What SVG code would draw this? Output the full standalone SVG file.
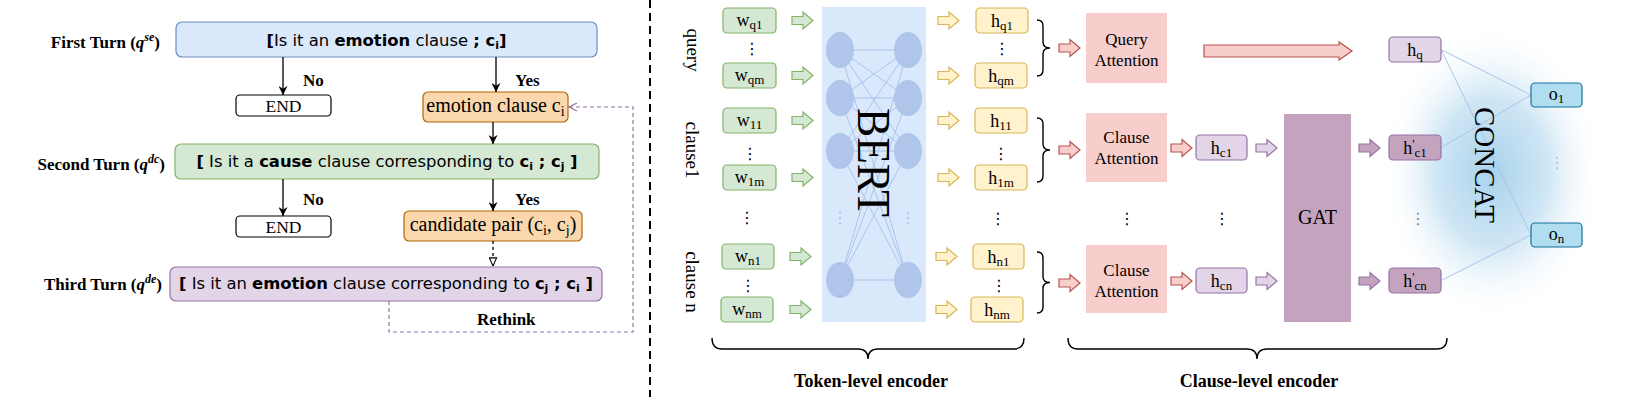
<svg xmlns="http://www.w3.org/2000/svg" xmlns:xlink="http://www.w3.org/1999/xlink" width="1642" height="416" viewBox="0 0 1642 416">
<style>
.t{font-family:"Liberation Serif","Times New Roman",serif;fill:#000}
.b{font-weight:bold}
.s{font-family:"DejaVu Sans","Verdana",sans-serif;font-size:16.4px;fill:#000}
.l18{font-size:18px}
.lb{font-size:17px;font-weight:bold}
.blue{fill:#dae8fc;stroke:#6c8ebf;stroke-width:1.2}
.green{fill:#d5e8d4;stroke:#82b366;stroke-width:1.2}
.purple{fill:#e1d5e7;stroke:#9673a6;stroke-width:1.2}
.orange{fill:#fad7ac;stroke:#b46504;stroke-width:1.2}
.yellow{fill:#fff2cc;stroke:#d6b656;stroke-width:1.2}
.red{fill:#f8cecc;stroke:#b85450;stroke-width:1.2}
.mauve{fill:#c4a3bf;stroke:#9673a6;stroke-width:1.2}
.obox{fill:#b1ddf0;stroke:#10739e;stroke-width:1.2}
.endb{fill:#fff;stroke:#000;stroke-width:1.2}
.conn{stroke:#000;stroke-width:1.3;fill:none}
.nn{stroke:#a9c4eb;stroke-width:1;fill:none}
.brace{stroke:#000;stroke-width:1.4;fill:none}
.dots{font-family:"DejaVu Sans",sans-serif;font-size:16px;fill:#000}
</style>
<defs>
<path id="ba" d="M0,-4 H11 V-8.5 L21,0 L11,8.5 V4 H0 Z"/>
<marker id="ah" viewBox="0 0 10 10" refX="10" refY="5" markerWidth="9" markerHeight="9" markerUnits="userSpaceOnUse" orient="auto"><path d="M0,0 L10,5 L0,10 L3,5 Z" fill="#000"/></marker>
<marker id="ot" viewBox="0 0 10 10" refX="9.5" refY="5" markerWidth="9" markerHeight="9" markerUnits="userSpaceOnUse" orient="auto"><path d="M0.5,1 L9.5,5 L0.5,9 Z" fill="#fff" stroke="#000" stroke-width="1.2"/></marker>
<marker id="oc" viewBox="0 0 10 10" refX="9" refY="5" markerWidth="10" markerHeight="10" markerUnits="userSpaceOnUse" orient="auto"><path d="M1,1 L9,5 L1,9" fill="none" stroke="#9673a6" stroke-width="1.2"/></marker>
<radialGradient id="glow" cx="0.5" cy="0.5" r="0.5"><stop offset="0" stop-color="#a9d3ec"/><stop offset="0.5" stop-color="#cfe6f4"/><stop offset="1" stop-color="#ffffff" stop-opacity="0"/></radialGradient>
</defs>
<rect width="1642" height="416" fill="#fff"/>

<!-- LEFT: multi-turn -->
<g id="labels-turns">
<text x="160" y="48" text-anchor="end" class="t lb">First Turn (<tspan font-style="italic">q</tspan><tspan font-style="italic" font-size="12" dy="-7">se</tspan><tspan dy="7">)</tspan></text>
<text x="165" y="170" text-anchor="end" class="t lb">Second Turn (<tspan font-style="italic">q</tspan><tspan font-style="italic" font-size="12" dy="-7">dc</tspan><tspan dy="7">)</tspan></text>
<text x="162" y="290" text-anchor="end" class="t lb">Third Turn (<tspan font-style="italic">q</tspan><tspan font-style="italic" font-size="12" dy="-7">de</tspan><tspan dy="7">)</tspan></text>
</g>
<g id="q1">
<rect x="176" y="22" width="421" height="35" rx="6" class="blue"/>
<text x="386.5" y="46" text-anchor="middle" class="s"><tspan class="b">[</tspan>Is it an <tspan class="b">emotion</tspan> clause <tspan class="b">; c</tspan><tspan class="b" font-size="11" dy="3">i</tspan><tspan class="b" dy="-3">]</tspan></text>
</g>
<g id="end1">
<rect x="236" y="95" width="95" height="21" rx="4" class="endb"/>
<text x="283.5" y="112" text-anchor="middle" class="t" font-size="17.5">END</text>
</g>
<g id="emo">
<rect x="423" y="92" width="145" height="30" rx="5" class="orange"/>
<text x="495.5" y="112" text-anchor="middle" class="t" font-size="20">emotion clause c<tspan font-size="14" dy="4">i</tspan></text>
</g>
<g id="q2">
<rect x="175" y="144" width="424" height="35" rx="6" class="green"/>
<text x="387" y="167" text-anchor="middle" class="s"><tspan class="b">[</tspan> Is it a <tspan class="b">cause</tspan> clause corresponding to <tspan class="b">c</tspan><tspan class="b" font-size="11" dy="3">i</tspan><tspan class="b" dy="-3"> ; c</tspan><tspan class="b" font-size="11" dy="3">j</tspan><tspan class="b" dy="-3"> ]</tspan></text>
</g>
<g id="end2">
<rect x="236" y="216" width="95" height="21" rx="4" class="endb"/>
<text x="283.5" y="233" text-anchor="middle" class="t" font-size="17.5">END</text>
</g>
<g id="cand">
<rect x="404" y="211" width="178" height="30" rx="5" class="orange"/>
<text x="493" y="231" text-anchor="middle" class="t" font-size="20">candidate pair (c<tspan font-size="14" dy="4">i</tspan><tspan dy="-4">, c</tspan><tspan font-size="14" dy="4">j</tspan><tspan dy="-4">)</tspan></text>
</g>
<g id="q3">
<rect x="170" y="267" width="432" height="34" rx="6" class="purple"/>
<text x="386" y="289" text-anchor="middle" class="s"><tspan class="b">[</tspan> Is it an <tspan class="b">emotion</tspan> clause corresponding to <tspan class="b">c</tspan><tspan class="b" font-size="11" dy="3">j</tspan><tspan class="b" dy="-3"> ; c</tspan><tspan class="b" font-size="11" dy="3">i</tspan><tspan class="b" dy="-3"> ]</tspan></text>
</g>
<g id="left-connectors">
<line x1="283" y1="57" x2="283" y2="95" class="conn" marker-end="url(#ah)"/>
<line x1="496" y1="57" x2="496" y2="92" class="conn" marker-end="url(#ah)"/>
<line x1="493" y1="122" x2="493" y2="144" class="conn" marker-end="url(#ah)"/>
<line x1="283" y1="179" x2="283" y2="216" class="conn" marker-end="url(#ah)"/>
<line x1="493" y1="179" x2="493" y2="211" class="conn" marker-end="url(#ah)"/>
<line x1="493" y1="241" x2="493" y2="266" class="conn" stroke-dasharray="3 3" marker-end="url(#ot)"/>
<path d="M389,301 V332 H633 V107 H569" fill="none" stroke="#9673a6" stroke-width="1.2" stroke-dasharray="4 3" marker-end="url(#oc)"/>
<text x="303" y="86" class="t lb">No</text>
<text x="515" y="86" class="t lb">Yes</text>
<text x="303" y="205" class="t lb">No</text>
<text x="515" y="205" class="t lb">Yes</text>
<text x="477" y="325" class="t lb">Rethink</text>
</g>

<line x1="650" y1="0" x2="650" y2="397" stroke="#000" stroke-width="2" stroke-dasharray="8 5"/>

<!-- RIGHT -->
<g id="side-labels" class="t" font-size="19">
<text transform="translate(687,50) rotate(90)" text-anchor="middle">query</text>
<text transform="translate(686,150) rotate(90)" text-anchor="middle">clause1</text>
<text transform="translate(686,282) rotate(90)" text-anchor="middle">clause n</text>
</g>

<g id="w-tokens" class="t l18">
<rect x="723" y="8" width="53" height="25" rx="4" class="green"/>
<text x="749.5" y="25.5" text-anchor="middle">w<tspan font-size="13" dy="3">q1</tspan></text>
<rect x="723" y="63" width="53" height="25" rx="4" class="green"/>
<text x="749.5" y="80.5" text-anchor="middle">w<tspan font-size="13" dy="3">qm</tspan></text>
<rect x="723" y="108" width="53" height="25" rx="4" class="green"/>
<text x="749.5" y="125.5" text-anchor="middle">w<tspan font-size="13" dy="3">11</tspan></text>
<rect x="723" y="165" width="53" height="25" rx="4" class="green"/>
<text x="749.5" y="182.5" text-anchor="middle">w<tspan font-size="13" dy="3">1m</tspan></text>
<rect x="722" y="244" width="52" height="25" rx="4" class="green"/>
<text x="748" y="261.5" text-anchor="middle">w<tspan font-size="13" dy="3">n1</tspan></text>
<rect x="721" y="297" width="52" height="25" rx="4" class="green"/>
<text x="747" y="314.5" text-anchor="middle">w<tspan font-size="13" dy="3">nm</tspan></text>
</g>
<g id="w-dots" class="dots" text-anchor="middle">
<text x="752" y="54">⋮</text>
<text x="750" y="159">⋮</text>
<text x="747" y="223">⋮</text>
<text x="748" y="291">⋮</text>
</g>
<g id="green-arrows" class="green">
<use xlink:href="#ba" x="792" y="20.5"/>
<use xlink:href="#ba" x="792" y="75.5"/>
<use xlink:href="#ba" x="792" y="120.5"/>
<use xlink:href="#ba" x="792" y="177.5"/>
<use xlink:href="#ba" x="790" y="256.5"/>
<use xlink:href="#ba" x="790" y="309.5"/>
</g>

<g id="bert">
<rect x="822" y="7" width="104" height="315" fill="#dae8fc"/>
<g class="nn">
<line x1="840" y1="50" x2="908" y2="50"/><line x1="840" y1="50" x2="908" y2="98"/><line x1="840" y1="50" x2="908" y2="151"/><line x1="840" y1="50" x2="908" y2="280"/>
<line x1="840" y1="98" x2="908" y2="50"/><line x1="840" y1="98" x2="908" y2="98"/><line x1="840" y1="98" x2="908" y2="151"/><line x1="840" y1="98" x2="908" y2="280"/>
<line x1="840" y1="151" x2="908" y2="50"/><line x1="840" y1="151" x2="908" y2="98"/><line x1="840" y1="151" x2="908" y2="151"/><line x1="840" y1="151" x2="908" y2="280"/>
<line x1="840" y1="280" x2="908" y2="50"/><line x1="840" y1="280" x2="908" y2="98"/><line x1="840" y1="280" x2="908" y2="151"/><line x1="840" y1="280" x2="908" y2="280"/>
</g>
<g fill="#b0c5ea">
<ellipse cx="840" cy="50" rx="14" ry="18"/><ellipse cx="840" cy="98" rx="14" ry="18"/><ellipse cx="840" cy="151" rx="14" ry="18"/><ellipse cx="840" cy="280" rx="14" ry="18"/>
<ellipse cx="908" cy="50" rx="14" ry="18"/><ellipse cx="908" cy="98" rx="14" ry="18"/><ellipse cx="908" cy="151" rx="14" ry="18"/><ellipse cx="908" cy="280" rx="14" ry="18"/>
</g>
<text x="840" y="223" class="dots" text-anchor="middle" style="fill:#a9c4eb">⋮</text>
<text x="908" y="223" class="dots" text-anchor="middle" style="fill:#a9c4eb">⋮</text>
<text transform="translate(858,162.5) rotate(90)" text-anchor="middle" class="t" font-size="47" textLength="109" lengthAdjust="spacingAndGlyphs">BERT</text>
</g>

<g id="yellow-arrows" class="yellow">
<use xlink:href="#ba" x="938" y="20.5"/>
<use xlink:href="#ba" x="938" y="75.5"/>
<use xlink:href="#ba" x="938" y="120.5"/>
<use xlink:href="#ba" x="938" y="177.5"/>
<use xlink:href="#ba" x="936" y="256.5"/>
<use xlink:href="#ba" x="936" y="309.5"/>
</g>
<g id="h-tokens" class="t l18">
<rect x="976" y="8" width="52" height="25" rx="4" class="yellow"/>
<text x="1002" y="26.5" text-anchor="middle">h<tspan font-size="13" dy="3">q1</tspan></text>
<rect x="975" y="63" width="52" height="25" rx="4" class="yellow"/>
<text x="1001" y="81.5" text-anchor="middle">h<tspan font-size="13" dy="3">qm</tspan></text>
<rect x="975" y="108" width="52" height="25" rx="4" class="yellow"/>
<text x="1001" y="126.5" text-anchor="middle">h<tspan font-size="13" dy="3">11</tspan></text>
<rect x="975" y="165" width="52" height="25" rx="4" class="yellow"/>
<text x="1001" y="183.5" text-anchor="middle">h<tspan font-size="13" dy="3">1m</tspan></text>
<rect x="973" y="244" width="51" height="25" rx="4" class="yellow"/>
<text x="998.5" y="262.5" text-anchor="middle">h<tspan font-size="13" dy="3">n1</tspan></text>
<rect x="971" y="297" width="52" height="25" rx="4" class="yellow"/>
<text x="997" y="315.5" text-anchor="middle">h<tspan font-size="13" dy="3">nm</tspan></text>
</g>
<g id="h-dots" class="dots" text-anchor="middle">
<text x="1002" y="54">⋮</text>
<text x="1001" y="159">⋮</text>
<text x="998" y="224">⋮</text>
<text x="999" y="291">⋮</text>
<text x="1127" y="224">⋮</text>
<text x="1222" y="224">⋮</text>
<text x="1418" y="224">⋮</text>
<text x="1557" y="168">⋮</text>
</g>
<g id="braces" class="brace">
<path d="M1037,20 Q1043,20 1043,26 V42 Q1043,48 1050,48 Q1043,48 1043,54 V70 Q1043,76 1037,76"/>
<path d="M1037,118 Q1043,118 1043,124 V144 Q1043,150 1050,150 Q1043,150 1043,156 V176 Q1043,182 1037,182"/>
<path d="M1037,252 Q1043,252 1043,258 V276.5 Q1043,282.5 1050,282.5 Q1043,282.5 1043,288.5 V307 Q1043,313 1037,313"/>
<path d="M712,338 Q712,349 722,349 H858 Q868,349 868,359 Q868,349 878,349 H1014 Q1024,349 1024,338"/>
<path d="M1068,338 Q1068,349 1078,349 H1247 Q1257,349 1257,359 Q1257,349 1267,349 H1437 Q1447,349 1447,338"/>
</g>
<g id="red-arrows" class="red">
<use xlink:href="#ba" x="1059" y="48"/>
<use xlink:href="#ba" x="1059" y="150"/>
<use xlink:href="#ba" x="1059" y="283"/>
<use xlink:href="#ba" x="1171" y="148"/>
<use xlink:href="#ba" x="1171" y="281"/>
<path d="M1204,45 H1339 V42 L1352,51 L1339,60 V57 H1204 Z"/>
</g>
<g id="query-attn">
<rect x="1086" y="13" width="81" height="70" fill="#f8cecc"/>
<text x="1126.5" y="45" text-anchor="middle" class="t" font-size="17">Query</text>
<text x="1126.5" y="65.5" text-anchor="middle" class="t" font-size="17">Attention</text>
</g>
<g id="clause-attn-1">
<rect x="1086" y="113" width="81" height="69" fill="#f8cecc"/>
<text x="1126.5" y="143" text-anchor="middle" class="t" font-size="17">Clause</text>
<text x="1126.5" y="164" text-anchor="middle" class="t" font-size="17">Attention</text>
</g>
<g id="clause-attn-n">
<rect x="1086" y="245" width="81" height="68" fill="#f8cecc"/>
<text x="1126.5" y="276" text-anchor="middle" class="t" font-size="17">Clause</text>
<text x="1126.5" y="297" text-anchor="middle" class="t" font-size="17">Attention</text>
</g>
<g id="hc" class="t l18">
<rect x="1196" y="135" width="51" height="25" rx="4" class="purple"/>
<text x="1221.5" y="153.5" text-anchor="middle">h<tspan font-size="13" dy="3">c1</tspan></text>
<rect x="1196" y="268" width="51" height="25" rx="4" class="purple"/>
<text x="1221.5" y="286.5" text-anchor="middle">h<tspan font-size="13" dy="3">cn</tspan></text>
</g>
<g id="lav-arrows" class="purple">
<use xlink:href="#ba" x="1256" y="148"/>
<use xlink:href="#ba" x="1256" y="281"/>
</g>
<g id="gat">
<rect x="1284" y="114" width="67" height="208" fill="#c4a3bf"/>
<text x="1317.5" y="224" text-anchor="middle" class="t" font-size="20">GAT</text>
</g>
<g id="gat-arrows" class="mauve">
<use xlink:href="#ba" x="1359" y="148"/>
<use xlink:href="#ba" x="1359" y="281"/>
</g>

<ellipse cx="1492" cy="172" rx="112" ry="148" fill="url(#glow)"/>
<g id="concat-lines" class="nn">
<line x1="1441" y1="49.5" x2="1531" y2="95"/>
<line x1="1441" y1="49.5" x2="1531" y2="235"/>
<line x1="1441" y1="147.5" x2="1531" y2="95"/>
<line x1="1441" y1="280.5" x2="1531" y2="235"/>
</g>
<g id="hq" class="t l18">
<rect x="1389" y="37" width="52" height="25" rx="4" class="purple"/>
<text x="1415" y="55.5" text-anchor="middle">h<tspan font-size="13" dy="3">q</tspan></text>
</g>
<g id="hprime" class="t l18">
<rect x="1389" y="135" width="52" height="25" rx="4" class="mauve"/>
<text x="1415" y="153.5" text-anchor="middle">h<tspan font-size="13" dy="-6">'</tspan><tspan font-size="13" dy="9">c1</tspan></text>
<rect x="1389" y="268" width="52" height="25" rx="4" class="mauve"/>
<text x="1415" y="286.5" text-anchor="middle">h<tspan font-size="13" dy="-6">'</tspan><tspan font-size="13" dy="9">cn</tspan></text>
</g>
<text transform="translate(1475,165) rotate(90)" text-anchor="middle" class="t" font-size="30" textLength="116" lengthAdjust="spacingAndGlyphs">CONCAT</text>
<g id="outputs" class="t l18">
<rect x="1531" y="83" width="51" height="24" rx="4" class="obox"/>
<text x="1556.5" y="100" text-anchor="middle">o<tspan font-size="13" dy="3">1</tspan></text>
<rect x="1531" y="223" width="51" height="24" rx="4" class="obox"/>
<text x="1556.5" y="240" text-anchor="middle">o<tspan font-size="13" dy="3">n</tspan></text>
</g>
<g id="encoder-labels" class="t b" font-size="18">
<text x="871" y="387" text-anchor="middle">Token-level encoder</text>
<text x="1259" y="387" text-anchor="middle">Clause-level encoder</text>
</g>
</svg>
